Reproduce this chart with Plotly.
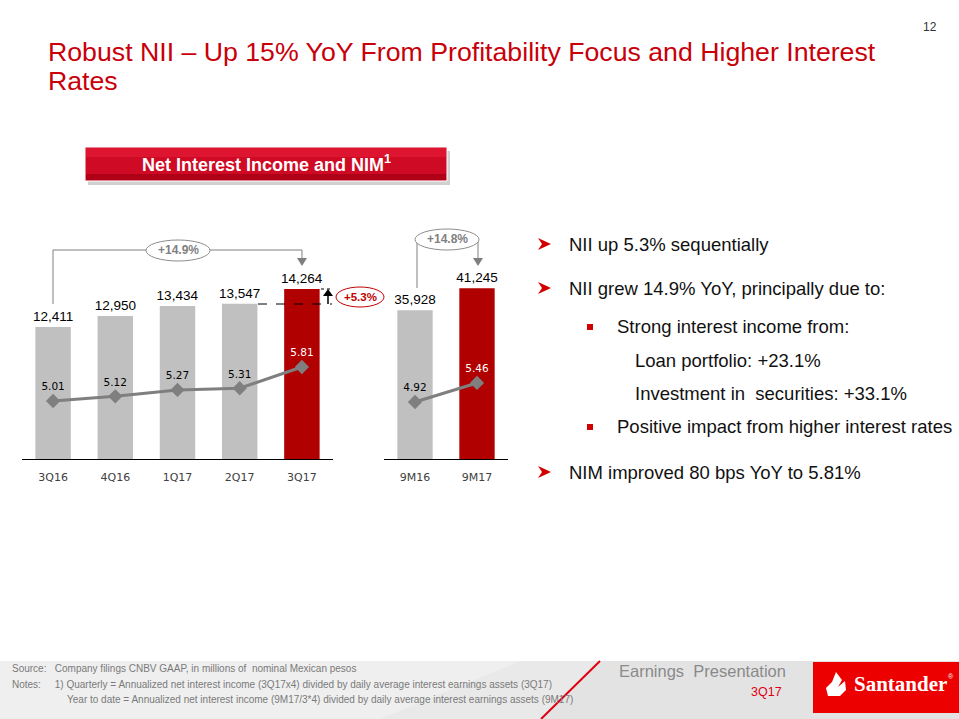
import plotly.graph_objects as go

# ---------------- data ----------------
quarters = ["3Q16", "4Q16", "1Q17", "2Q17", "3Q17"]
nii_quarterly = [12411, 12950, 13434, 13547, 14264]
nim_quarterly = [5.01, 5.12, 5.27, 5.31, 5.81]

ytd_periods = ["9M16", "9M17"]
nii_ytd = [35928, 41245]
nim_ytd = [4.92, 5.46]

title_lines = ["Robust NII – Up 15% YoY From Profitability Focus and Higher Interest", "Rates"]
panel_title = "Net Interest Income and NIM<sup>1</sup>"
growth_qoq = "+5.3%"
growth_yoy_q = "+14.9%"
growth_yoy_ytd = "+14.8%"

bullets = [
    ("arrow", "NII up 5.3% sequentially"),
    ("arrow", "NII grew 14.9% YoY, principally due to:"),
    ("square", "Strong interest income from:"),
    ("plain", "Loan portfolio: +23.1%"),
    ("plain", "Investment in  securities: +33.1%"),
    ("square", "Positive impact from higher interest rates"),
    ("arrow", "NIM improved 80 bps YoY to 5.81%"),
]

source_note = "Source:   Company filings CNBV GAAP, in millions of  nominal Mexican pesos"
notes_1 = "Notes:     1) Quarterly = Annualized net interest income (3Q17x4) divided by daily average interest earnings assets (3Q17)"
notes_2 = "Year to date = Annualized net interest income (9M17/3*4) divided by daily average interest earnings assets (9M17)"

# ---------------- helpers ----------------
W, H = 959, 719
def X(p):
    return p / W
def Y(p):
    return 1 - p / H

GRAY_BAR = "#c0c0c0"
RED_BAR = "#b00000"
LINE_GRAY = "#7f7f7f"
TITLE_RED = "#c8000a"
SANS = "Liberation Sans, Arial, sans-serif"
TAHOMA = "DejaVu Sans, Verdana, sans-serif"

q_colors = [GRAY_BAR] * (len(quarters) - 1) + [RED_BAR]
q_txt = ["black"] * (len(quarters) - 1) + ["white"]
y_colors = [GRAY_BAR, RED_BAR]
y_txt = ["black", "white"]

fig = go.Figure()

fig.add_trace(go.Bar(
    x=quarters, y=nii_quarterly, marker=dict(color=q_colors, line=dict(width=0)),
    width=0.57, texttemplate="%{y:,}", textposition="outside", constraintext="none",
    textfont=dict(family=SANS, size=13.5, color="black"), cliponaxis=False,
    xaxis="x", yaxis="y", hoverinfo="skip"))
fig.add_trace(go.Scatter(
    x=quarters, y=nim_quarterly, mode="lines+markers+text",
    line=dict(color=LINE_GRAY, width=3),
    marker=dict(symbol="diamond", size=11, color=LINE_GRAY),
    text=[f"{v:.2f}" for v in nim_quarterly], textposition="top center",
    textfont=dict(family=TAHOMA, size=10.5, color=q_txt), cliponaxis=False,
    xaxis="x", yaxis="y2", hoverinfo="skip"))
fig.add_trace(go.Bar(
    x=ytd_periods, y=nii_ytd, marker=dict(color=y_colors, line=dict(width=0)),
    width=0.57, texttemplate="%{y:,}", textposition="outside", constraintext="none",
    textfont=dict(family=SANS, size=13.5, color="black"), cliponaxis=False,
    xaxis="x2", yaxis="y3", hoverinfo="skip"))
fig.add_trace(go.Scatter(
    x=ytd_periods, y=nim_ytd, mode="lines+markers+text",
    line=dict(color=LINE_GRAY, width=3),
    marker=dict(symbol="diamond", size=11, color=LINE_GRAY),
    text=[f"{v:.2f}" for v in nim_ytd], textposition="top center",
    textfont=dict(family=TAHOMA, size=10.5, color=y_txt), cliponaxis=False,
    xaxis="x2", yaxis="y4", hoverinfo="skip"))

ydom = [Y(459), Y(200)]
xaxis_common = dict(showline=True, linecolor="black", linewidth=1, showgrid=False,
                    zeroline=False, ticks="", tickfont=dict(family=TAHOMA, size=11, color="#404040"),
                    ticklabelstandoff=8, fixedrange=True)
hidden_y = dict(visible=False, showgrid=False, zeroline=False, fixedrange=True)

shapes = []
annotations = []

def line(x0, y0, x1, y1, color=LINE_GRAY, width=1, dash="solid", layer="above"):
    shapes.append(dict(type="line", xref="paper", yref="paper", x0=X(x0), y0=Y(y0),
                       x1=X(x1), y1=Y(y1), layer=layer, line=dict(color=color, width=width, dash=dash)))

def path(pts, fill, color=None, width=0, close=True, layer="above"):
    d = "M " + " L ".join(f"{X(a):.5f},{Y(b):.5f}" for a, b in pts) + (" Z" if close else "")
    shapes.append(dict(type="path", xref="paper", yref="paper", path=d, fillcolor=fill, layer=layer,
                       line=dict(color=color or fill, width=width)))

def rect(x0, y0, x1, y1, fill, color=None, width=0, layer="below"):
    shapes.append(dict(type="rect", xref="paper", yref="paper", x0=X(x0), y0=Y(y1),
                       x1=X(x1), y1=Y(y0), fillcolor=fill, layer=layer,
                       line=dict(color=color or fill, width=width)))

def ellipse(x0, y0, x1, y1, color):
    shapes.append(dict(type="circle", xref="paper", yref="paper", x0=X(x0), y0=Y(y1),
                       x1=X(x1), y1=Y(y0), fillcolor="white", layer="above",
                       line=dict(color=color, width=1)))

def text(x, y, s, size, color, family=SANS, xanchor="center", bold=False):
    annotations.append(dict(xref="paper", yref="paper", x=X(x), y=Y(y), text=(f"<b>{s}</b>" if bold else s),
                            showarrow=False, xanchor=xanchor, yanchor="middle",
                            font=dict(family=family, size=size, color=color)))

# footer band
rect(0, 661, 959, 719, "#e9e9e9")
path([(0, 661), (520, 661), (380, 719), (0, 719)], "#efefef", layer="below")
path([(600, 661), (959, 661), (959, 719), (541, 719)], "#e3e3e3", layer="below")
line(600, 661, 541, 719, color="#e00010", width=2, layer="below")
# santander logo
rect(813, 662, 959, 713, "#ec0000", layer="above")
path([(836, 672), (842, 680), (838, 687), (845, 681), (846, 690), (840, 696), (828, 696), (826, 688), (832, 682)],
     "white")
text(900, 684, "Santander", 21, "white", family="Liberation Serif, DejaVu Serif, serif", bold=True)
text(951, 676, "®", 7, "white")

# header box
rect(88, 151, 450, 185, "#d0d0d0")
rect(85, 147, 447, 181, "#cf0a24", color="#ffffff", width=1)
rect(86, 148, 446, 157, "#dd1530")
rect(86, 174, 446, 180, "#b00018")
text(266, 164, panel_title, 18, "white", bold=True)

# YoY bracket (quarterly)
path([(53, 304), (53, 250), (302, 250), (302, 260)], "rgba(0,0,0,0)", color=LINE_GRAY, width=1, close=False)
path([(297, 258), (307, 258), (302, 266)], LINE_GRAY)
ellipse(146, 240, 210, 261, "#8c8c8c")
text(178, 250.5, growth_yoy_q, 12, LINE_GRAY, bold=True)

# YoY bracket (ytd)
path([(417, 288), (417, 242)], "rgba(0,0,0,0)", color=LINE_GRAY, width=1, close=False)
path([(478, 241), (478, 260)], "rgba(0,0,0,0)", color=LINE_GRAY, width=1, close=False)
path([(473, 258), (483, 258), (478, 266)], LINE_GRAY)
ellipse(415, 229, 479, 250, "#8c8c8c")
text(447, 239.5, growth_yoy_ytd, 12, LINE_GRAY, bold=True)

# sequential growth marker
line(258, 304, 332, 304, color="black", width=1, dash="dash")
line(321, 289, 333, 289, color="black", width=1, dash="dot")
line(328, 304, 328, 294, color="black", width=1.5)
path([(323, 296), (333, 296), (328, 289)], "black")
ellipse(336, 287, 384, 307, "#c00000")
text(360, 297, growth_qoq, 11.5, "#c00000", bold=True)

# titles
text(46, 52, title_lines[0], 26.7, TITLE_RED, xanchor="left")
text(46, 81, title_lines[1], 26.7, TITLE_RED, xanchor="left")
text(930, 27, "12", 12, "#333333")

# bullets
bullet_y = [244, 288, 327, 360, 393, 427, 472]
for (kind, s), yy in zip(bullets, bullet_y):
    if kind == "arrow":
        path([(538, yy - 6), (551, yy), (538, yy + 6), (542, yy)], "#d00000")
        text(567, yy, s, 18.5, "#111111", xanchor="left")
    elif kind == "square":
        rect(587, yy - 3, 593, yy + 3, "#d00000")
        text(615, yy, s, 18.5, "#111111", xanchor="left")
    else:
        text(633, yy, s, 18.5, "#111111", xanchor="left")

# footer text
text(10, 668, source_note, 10, "#7a7a7a", xanchor="left")
text(10, 684, notes_1, 10, "#7a7a7a", xanchor="left")
text(65, 699, notes_2, 10, "#7a7a7a", xanchor="left")
text(617, 671, "Earnings  Presentation", 16.5, "#8a8a8a", xanchor="left")
text(784, 692, "3Q17", 12.5, "#e00010", xanchor="right")

fig.update_layout(
    width=W, height=H, margin=dict(l=0, r=0, t=0, b=0, pad=0),
    paper_bgcolor="white", plot_bgcolor="rgba(0,0,0,0)", showlegend=False,
    xaxis=dict(domain=[X(22), X(333)], anchor="y", **xaxis_common),
    yaxis=dict(domain=ydom, range=[5972, 5972 + 259 / 0.020507], anchor="x", **hidden_y),
    yaxis2=dict(overlaying="y", range=[3.645, 3.645 + 259 / 42.5], anchor="x", **hidden_y),
    xaxis2=dict(domain=[X(384), X(508)], anchor="y3", **xaxis_common),
    yaxis3=dict(domain=ydom, range=[0, 259 / 0.004138], anchor="x2", **hidden_y),
    yaxis4=dict(overlaying="y3", range=[3.30, 3.30 + 259 / 35.2], anchor="x2", **hidden_y),
    shapes=shapes, annotations=annotations,
)

fig.write_html("out.html", config={"displayModeBar": False, "staticPlot": True},
               post_script="document.body.style.margin='0';document.body.style.padding='0';")
